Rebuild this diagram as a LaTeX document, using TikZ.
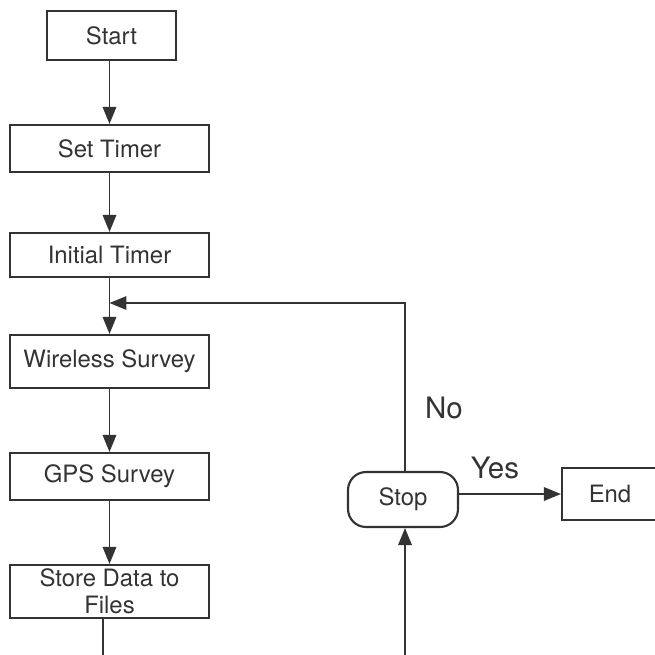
\documentclass[tikz,border=0pt]{standalone}
\usepackage{fontspec}
\setmainfont{TeX Gyre Heros}
\usetikzlibrary{arrows.meta}
\definecolor{ink}{HTML}{333333}
\tikzset{
  box/.style={draw=ink,line width=1.2pt,text=ink,minimum width=3.98cm,
    minimum height=0.96cm,inner sep=0pt,align=center,
    font=\fontsize{13.6}{15.3}\selectfont},
  term/.style={box,rounded corners=0.36cm,minimum width=2.2cm,minimum height=1.1cm},
  flow/.style={draw=ink,line width=0.95pt,-{Triangle[length=0.34cm,width=0.27cm]}},
  link/.style={draw=ink,line width=0.95pt},
  lbl/.style={text=ink,inner sep=0pt,font=\fontsize{16.8}{19}\selectfont}
}
\begin{document}
\begin{tikzpicture}[x=0.02cm,y=-0.02cm]
\clip (0,0) rectangle (655,654);
\fill[white] (0,0) rectangle (655,654);
% main column
\node[box,minimum width=2.58cm,minimum height=0.98cm] (start) at (111.5,35.5) {Start};
\node[box,minimum height=0.94cm] (settimer) at (109.5,148.5) {Set Timer};
\node[box,minimum height=0.88cm] (init) at (109.5,255) {Initial Timer};
\node[box,minimum height=1.06cm] (wireless) at (109.5,361.5) {Wireless Survey};
\node[box,minimum height=0.94cm] (gps) at (109.5,476.5) {GPS Survey};
\node[box,minimum height=1.06cm] (store) at (109.5,591.5) {Store Data to\\Files};
% decision side
\node[term] (stop) at (403,499.5) {Stop};
\node[box,minimum width=1.92cm,minimum height=1.04cm] (end) at (610,494) {End};
\node[lbl] (lblno) at (444,408) {No};
\node[lbl] (lblyes) at (495,468) {Yes};
\coordinate (nl) at (405,303);
\coordinate (bl) at (103,664);
\coordinate (br) at (405,664);
\draw[flow] (start.south -| settimer.north) -- (settimer.north);
\draw[flow] (settimer) -- (init);
\draw[flow] (init) -- (wireless);
\draw[flow] (wireless) -- (gps);
\draw[flow] (gps) -- (store);
\draw[link] (store.south -| bl) -- (bl) -- (br);
\draw[flow] (br) -- (stop.south -| br);
\draw[flow] (stop.north -| nl) -- (nl) -- (nl -| init.south);
\draw[flow] (stop.east |- end.west) -- (end.west);
\end{tikzpicture}
\end{document}
